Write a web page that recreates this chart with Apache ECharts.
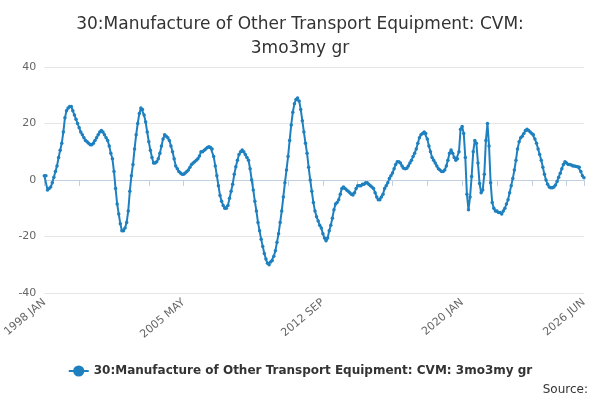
<!DOCTYPE html>
<html>
<head>
<meta charset="utf-8">
<script src="https://cdn.jsdelivr.net/npm/echarts@6/dist/echarts.min.js"></script>
<style>html,body{margin:0;padding:0;background:#fff}#chart{width:600px;height:400px}</style>
</head>
<body>
<div id="chart"></div>
<script>
var seriesName = '30:Manufacture of Other Transport Equipment: CVM: 3mo3my gr';
var monthNames = ['JAN','FEB','MAR','APR','MAY','JUN','JUL','AUG','SEP','OCT','NOV','DEC'];
var startYear = 1998;
var values = [
	1.5, 1.5, -3.5, -3, -2.5, -1, 1, 3, 5, 8, 10.5, 13,
	17, 22, 24.5, 25.5, 26, 26, 24.5, 23, 21.5, 20, 18.5, 17,
	16, 15, 14, 13.5, 13, 12.5, 12.5, 13, 14, 15, 16, 17,
	17.5, 17, 16, 15, 14, 12, 9.5, 7.5, 3, -3, -8.5, -12,
	-15.5, -18, -18, -17, -15, -11, -4, 1.5, 5.5, 11, 16, 20,
	23.5, 25.5, 25, 23, 20.5, 17, 13.5, 10.5, 8, 6, 6, 6.5,
	7.5, 9.5, 12, 14.5, 16, 15.5, 15, 14, 12, 10, 7.5, 5,
	4, 3, 2.5, 2, 2, 2.5, 3, 3.5, 4.5, 5.5, 6, 6.5,
	7, 7.5, 8.5, 10, 10, 10.5, 11, 11.5, 11.8, 11.5, 11, 8.3,
	5, 1.5, -2, -5.5, -7.5, -9, -10, -10, -9, -6.5, -4, -1.5,
	2, 4.7, 7, 9, 10, 10.6, 10, 9, 8, 7, 4, 0,
	-3.5, -7.5, -11, -15, -18, -21, -23.5, -26, -28, -29.5, -30, -29,
	-28.5, -27, -25, -22, -19, -15, -11, -6, -1, 3.5, 8.3, 14,
	19.5, 24, 27, 28.5, 29, 28, 25, 21, 17, 13, 9.5, 4.5,
	0, -4, -8, -11, -13, -14.5, -16, -17, -19, -20.5, -21.5, -20.5,
	-18, -16, -13.5, -10.5, -8.5, -8, -7, -5, -3, -2.5, -3, -3.5,
	-4, -4.5, -5, -5.3, -4.5, -3, -2, -2, -2, -1.5, -1.5, -1,
	-1, -1.5, -2, -2.5, -3, -4.5, -6, -7, -7, -6, -5, -3,
	-2, -1, 0.5, 1.5, 2.5, 4, 5.5, 6.5, 6.5, 6, 5, 4.2,
	4, 4.2, 5, 6, 7, 8.3, 9.5, 11, 13, 15, 16, 16.5,
	17, 16.5, 14.5, 12, 10, 8, 7, 6, 5, 4, 3.5, 3,
	3, 3.5, 5, 7, 9.5, 10.6, 9.5, 8, 7, 7.5, 10, 18,
	18.9, 16.5, 8, -5, -10.5, -6, 1.2, 10, 14, 13, 6, -1.2,
	-4.5, -3.5, 2, 14, 20, 12, -1, -8, -10, -11, -11, -11.5,
	-11.5, -12, -11, -10, -8.5, -7, -4.5, -2, 0.5, 3.5, 7, 11,
	13.5, 15, 15.5, 16.5, 17.5, 18, 17.5, 17, 16.5, 16, 14.5, 13,
	11, 9, 7, 4.5, 2, 0, -1.5, -2.5, -2.7, -2.7, -2.5, -1.8,
	-0.5, 1, 2.4, 4, 5.5, 6.5, 6, 5.5, 5.5, 5.3, 5, 5,
	4.8, 4.7, 4.5, 3, 1.5, 0.8
];
var categories = [];
for (var i = 0; i < values.length; i++) {
	categories.push((startYear + Math.floor(i / 12)) + ' ' + monthNames[i % 12]);
}
var lastIndex = categories.length - 1;

var myChart = echarts.init(document.getElementById('chart'));
var option = {
	animation: false,
	title: {
		text: '30:Manufacture of Other Transport Equipment: CVM:\n3mo3my gr',
		left: 'center',
		top: 8,
		textStyle: {color: '#333', fontSize: 17, fontWeight: 'normal', fontFamily: 'DejaVu Sans', lineHeight: 24}
	},
	legend: {
		bottom: 18,
		left: 'center',
		data: [seriesName],
		itemWidth: 20,
		textStyle: {color: '#333', fontSize: 12, fontWeight: 'bold', fontFamily: 'DejaVu Sans'}
	},
	graphic: [{
		type: 'text', right: 12, bottom: 4,
		style: {text: 'Source:', fill: '#333', fontSize: 12, fontFamily: 'DejaVu Sans'}
	}],
	grid: {left: 43, right: 16, top: 67, bottom: 107},
	xAxis: {
		type: 'category',
		data: categories,
		boundaryGap: false,
		axisLine: {lineStyle: {color: '#c0d0e0'}},
		axisTick: {interval: function(i){ return i % 22 === 0 || i === lastIndex; }, lineStyle: {color: '#c0d0e0'}, length: 6},
		axisLabel: {
			interval: function(i){ return i % 88 === 0 || i === lastIndex; },
			rotate: 40, color: '#666', fontSize: 11, fontFamily: 'DejaVu Sans'
		}
	},
	yAxis: {
		type: 'value',
		min: -40, max: 40, interval: 20,
		axisLine: {show: false},
		axisTick: {show: false},
		axisLabel: {color: '#666', fontSize: 11, fontFamily: 'DejaVu Sans'},
		splitLine: {lineStyle: {color: '#e6e6e6'}}
	},
	series: [{
		name: seriesName,
		type: 'line',
		data: values,
		symbol: 'circle',
		symbolSize: 3.5,
		showAllSymbol: true,
		itemStyle: {color: '#1f80bf'},
		lineStyle: {color: '#1f80bf', width: 2}
	}]
};
myChart.setOption(option);
</script>
</body>
</html>
